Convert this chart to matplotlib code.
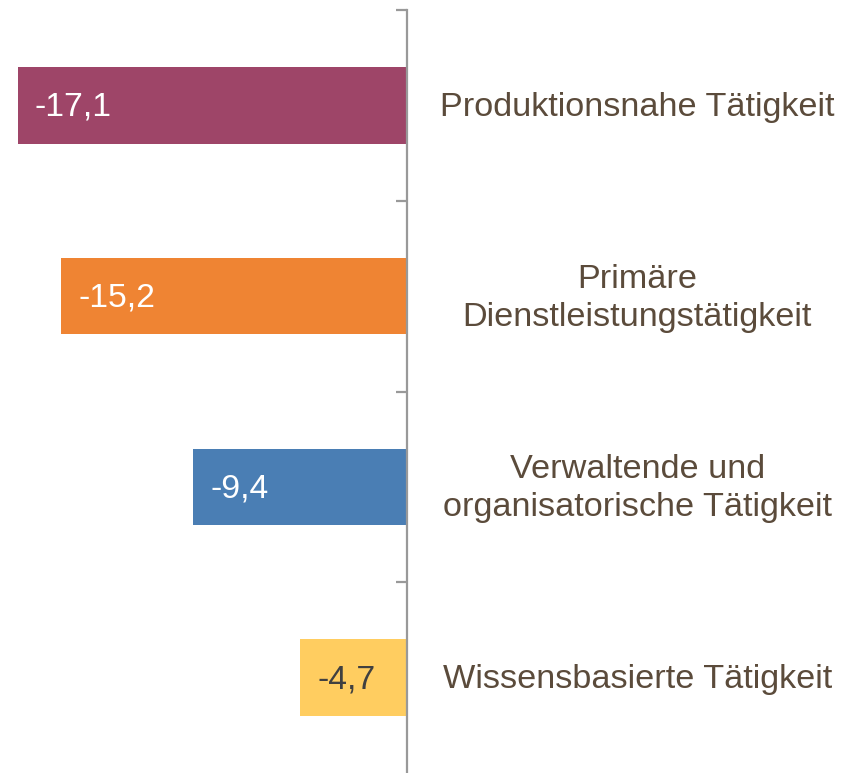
import matplotlib
matplotlib.use("Agg")
import matplotlib.pyplot as plt
from matplotlib.transforms import offset_copy

categories = ["Produktionsnahe Tätigkeit",
              "Primäre\nDienstleistungstätigkeit",
              "Verwaltende und\norganisatorische Tätigkeit",
              "Wissensbasierte Tätigkeit"]
values = [-17.1, -15.2, -9.4, -4.7]
value_labels = ["-17,1", "-15,2", "-9,4", "-4,7"]
colors = ["#9E4568", "#EF8433", "#4A7EB4", "#FFCD60"]
label_colors = ["white", "white", "white", "#404040"]

plt.rcParams['font.family'] = ['Liberation Sans', 'DejaVu Sans']

W, H = 859, 773
fig = plt.figure(figsize=(W/100, H/100), dpi=100)
ax = fig.add_axes([0, 0, 1, 763/773])

scale = 22.75
ax.set_xlim(-407/scale, (W-407)/scale)
ypos = list(range(len(values)))
ax.barh(ypos, values, height=0.4, color=colors)
ax.set_ylim(len(values)-0.5, -0.5)

for sp in ['top', 'right', 'bottom']:
    ax.spines[sp].set_visible(False)
ax.spines['left'].set_position(('data', 0))
ax.spines['left'].set_color('#999999')
ax.spines['left'].set_linewidth(1.6)
ax.set_xticks([])
ax.set_yticks([i - 0.5 for i in range(len(values))])
ax.set_yticklabels([])
ax.tick_params(axis='y', direction='out', length=8, width=1.6, color='#999999')

text_color = "#5B4B3B"
for y, v, lab, lc, cat in zip(ypos, values, value_labels, label_colors, categories):
    tr = offset_copy(ax.transData, fig=fig, x=17, y=-2, units='dots')
    ax.text(v, y, lab, transform=tr, ha='left', va='center', color=lc, fontsize=24.3)
    tr2 = offset_copy(ax.transData, fig=fig, x=4, y=-2, units='dots')
    ax.text(9.95, y, cat, transform=tr2, ha='center', va='center', color=text_color,
            fontsize=24.7, linespacing=1.3)

fig.savefig("out.png", dpi=100)
